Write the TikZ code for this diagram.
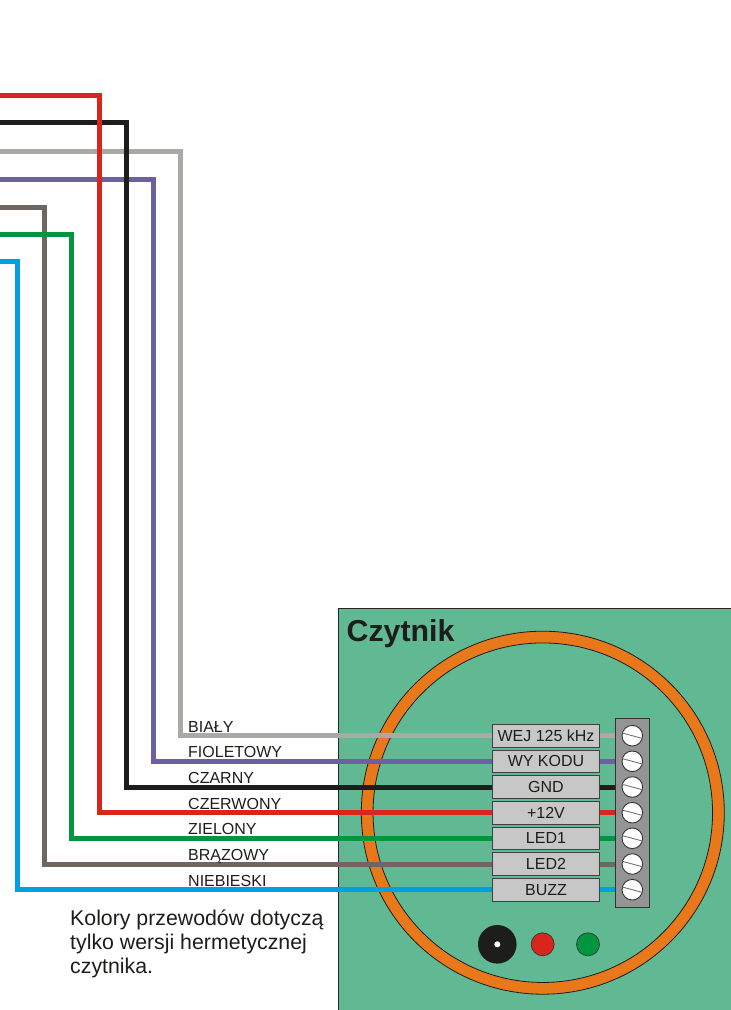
\documentclass[tikz,border=0pt]{standalone}
\usepackage{fontspec}
\setmainfont{Liberation Sans}
\definecolor{wgray}{HTML}{AAA9A5}
\definecolor{wviolet}{HTML}{6D5FA0}
\definecolor{wblack}{HTML}{1D1D1B}
\definecolor{wred}{HTML}{DA251D}
\definecolor{wgreen}{HTML}{009640}
\definecolor{wbrown}{HTML}{706660}
\definecolor{wblue}{HTML}{009FE3}
\definecolor{boardgreen}{HTML}{61B994}
\definecolor{ringorange}{HTML}{E8781A}
\begin{document}
\begin{tikzpicture}[x=1pt,y=-1pt,
    wire/.style={line width=5pt},
    colorlabel/.style={anchor=base west,inner sep=0pt,text=wblack,font=\fontsize{16}{18}\selectfont},
    pinbox/.style={draw=black!75,line width=0.9pt,fill=black!22,minimum width=106.5pt,minimum height=22.6pt,inner sep=0pt,text=wblack,font=\fontsize{16}{18}\selectfont},
    screwhead/.style={circle,draw=black!80,line width=0.9pt,fill=white,minimum size=20.6pt,inner sep=0pt},
    slot/.style={draw=black!55,line width=0.9pt},
    led/.style={circle,draw=black!80,line width=0.7pt,minimum size=23pt,inner sep=0pt}]
    \useasboundingbox (0,0) rectangle (731,1010);

    % Reader board
    \draw[black!85,line width=0.9pt,fill=boardgreen] (338.5,608.5) rectangle (731,1010);
    \node[circle,draw=wblack,line width=0.8pt,fill=ringorange,minimum size=363pt,inner sep=0pt] (ringout) at (542.8,812.7) {};
    \node[circle,draw=wblack,line width=0.8pt,fill=boardgreen,minimum size=339.5pt,inner sep=0pt] (ringin) at (542.8,812.7) {};
    \node[anchor=base west,inner sep=0pt,text=wblack,font=\fontsize{30.3}{34}\bfseries\selectfont] (title) at (346.5,641) {Czytnik};

    % Terminal strip
    \node[draw=black!80,line width=0.9pt,fill=black!42,minimum width=34.6pt,minimum height=189.3pt,inner sep=0pt] (term) at (632.3,812.7) {};
    \node[screwhead] (scr1) at (632.3,735.7) {};
    \node[screwhead] (scr2) at (632.3,761.3) {};
    \node[screwhead] (scr3) at (632.3,787) {};
    \node[screwhead] (scr4) at (632.3,812.7) {};
    \node[screwhead] (scr5) at (632.3,838.3) {};
    \node[screwhead] (scr6) at (632.3,864) {};
    \node[screwhead] (scr7) at (632.3,889.7) {};
    \draw[slot] (scr1.165) -- (scr1.-15);
    \draw[slot] (scr2.165) -- (scr2.-15);
    \draw[slot] (scr3.165) -- (scr3.-15);
    \draw[slot] (scr4.165) -- (scr4.-15);
    \draw[slot] (scr5.165) -- (scr5.-15);
    \draw[slot] (scr6.165) -- (scr6.-15);
    \draw[slot] (scr7.165) -- (scr7.-15);

    % Wires
    \coordinate (in1) at (0,151.7);
    \coordinate (in2) at (0,179);
    \coordinate (in3) at (0,122.7);
    \coordinate (in4) at (0,95.5);
    \coordinate (in5) at (0,234.3);
    \coordinate (in6) at (0,207.3);
    \coordinate (in7) at (0,261.7);
    \coordinate (bend1) at (180.5,151.7);
    \coordinate (bend2) at (153.5,179);
    \coordinate (bend3) at (126,122.7);
    \coordinate (bend4) at (99,95.5);
    \coordinate (bend5) at (71.5,234.3);
    \coordinate (bend6) at (44.5,207.3);
    \coordinate (bend7) at (17,261.7);
    \draw[wire,wblue] (in7) -- (bend7) |- (term.west |- scr7);
    \draw[wire,wbrown] (in6) -- (bend6) |- (term.west |- scr6);
    \draw[wire,wgray] (in1) -- (bend1) |- (term.west |- scr1);
    \draw[wire,wviolet] (in2) -- (bend2) |- (term.west |- scr2);
    \draw[wire,wgreen] (in5) -- (bend5) |- (term.west |- scr5);
    \draw[wire,wblack] (in3) -- (bend3) |- (term.west |- scr3);
    \draw[wire,wred] (in4) -- (bend4) |- (term.west |- scr4);

    % Pin boxes
    \node[pinbox] (pin1) at (546,735.7) {WEJ 125 kHz};
    \node[pinbox] (pin2) at (546,761.3) {WY KODU};
    \node[pinbox] (pin3) at (546,787) {GND};
    \node[pinbox] (pin4) at (546,812.7) {+12V};
    \node[pinbox] (pin5) at (546,838.3) {LED1};
    \node[pinbox] (pin6) at (546,864) {LED2};
    \node[pinbox] (pin7) at (546,889.7) {BUZZ};

    % Wire colours
    \node[colorlabel] (col1) at (188,732) {BIAŁY};
    \node[colorlabel] (col2) at (188,757.7) {FIOLETOWY};
    \node[colorlabel] (col3) at (188,783.3) {CZARNY};
    \node[colorlabel] (col4) at (188,809) {CZERWONY};
    \node[colorlabel] (col5) at (188,834.7) {ZIELONY};
    \node[colorlabel] (col6) at (188,860.3) {BRĄZOWY};
    \node[colorlabel] (col7) at (188,886) {NIEBIESKI};

    % Buzzer and LEDs
    \node[circle,fill=wblack,minimum size=38.6pt,inner sep=0pt] (buzzer) at (497.3,944.3) {};
    \node[circle,fill=white,minimum size=6pt,inner sep=0pt] (hole) at (497.3,944.3) {};
    \node[led,fill=wred] (ledred) at (542.7,944.3) {};
    \node[led,fill=wgreen] (ledgreen) at (588,944.3) {};

    % Note
    \node[anchor=north west,align=left,inner sep=0pt,text=wblack,font=\fontsize{21.3}{24.2}\selectfont] (note) at (70,909.5) {Kolory przewodów dotyczą\\tylko wersji hermetycznej\\czytnika.};
  \end{tikzpicture}
\end{document}
